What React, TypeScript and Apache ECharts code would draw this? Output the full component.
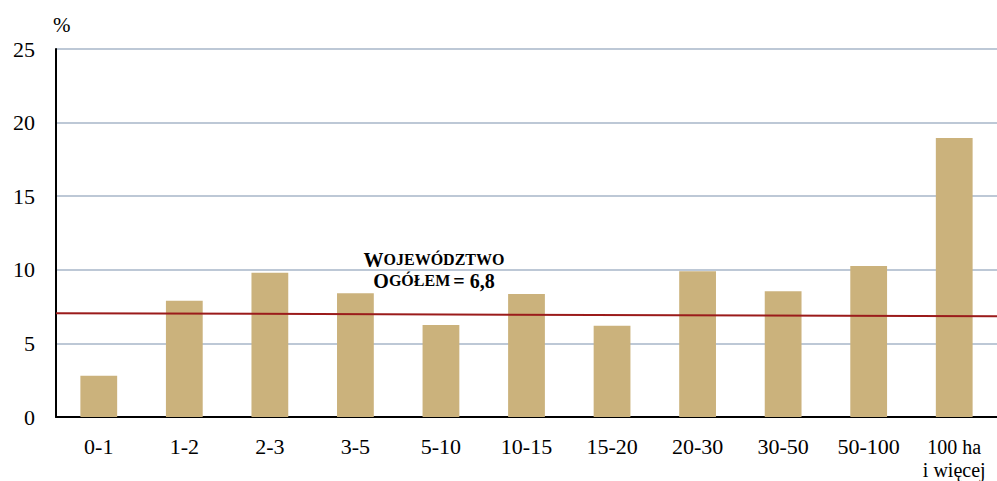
import React, { useEffect, useRef } from "react";
import * as echarts from "echarts";

const categories = ["0-1", "1-2", "2-3", "3-5", "5-10", "10-15", "15-20", "20-30", "30-50", "50-100", "100 ha\ni więcej"];
const values = [2.8, 7.9, 9.8, 8.4, 6.25, 8.35, 6.2, 9.9, 8.55, 10.25, 18.95];
const avgLine = [[0, 7.05], [1, 6.85]];
const yTicks = [0, 5, 10, 15, 20, 25];

export default function App() {
  const ref = useRef<HTMLDivElement>(null);
  useEffect(() => {
    if (!ref.current) return;
    const chart = echarts.init(ref.current, null, { renderer: "svg" });
    const font = "Liberation Serif";
    chart.setOption({
      animation: false,
      textStyle: { fontFamily: font },
      grid: { left: 56, right: 0, top: 49, bottom: 64 },
      xAxis: [
        {
          type: "category",
          data: categories,
          axisLine: { lineStyle: { color: "#000", width: 2 } },
          axisTick: { show: false },
          axisLabel: {
            color: "#000",
            fontSize: 22,
            fontFamily: font,
            margin: 18,
            lineHeight: 22,
            interval: 0,
            formatter: (v: string) =>
              v.indexOf("\n") >= 0 ? v.split("\n").map((s) => `{m|${s}}`).join("\n") : v,
            rich: {
              m: { fontSize: 20, lineHeight: 23, fontFamily: font, color: "#000" },
            },
          },
        },
        { type: "value", min: 0, max: 1, show: false },
      ],
      yAxis: {
        type: "value",
        min: yTicks[0],
        max: yTicks[yTicks.length - 1],
        interval: 5,
        name: "%",
        nameLocation: "end",
        nameGap: 14,
        nameTextStyle: { color: "#000", fontSize: 21, fontFamily: font, align: "left", padding: [0, 0, 0, -3] },
        axisLine: { show: true, lineStyle: { color: "#000", width: 2 } },
        axisTick: { show: false },
        axisLabel: { color: "#000", fontSize: 22, fontFamily: font, margin: 21 },
        splitLine: { lineStyle: { color: "#a7b6c9", width: 1.5 } },
      },
      series: [
        {
          type: "bar",
          data: values,
          barWidth: "43%",
          itemStyle: { color: "#cbb27c" },
          z: 2,
        },
        {
          type: "line",
          xAxisIndex: 1,
          data: avgLine,
          symbol: "none",
          lineStyle: { color: "#9b1b1b", width: 2 },
          z: 3,
        },
      ],
      graphic: [
        {
          type: "text",
          x: 434,
          y: 249,
          style: {
            text: "{b|W}{s|OJEWÓDZTWO}\n{b|O}{s|GÓŁEM} {b|= 6,8}",
            align: "center",
            verticalAlign: "top",
            fontFamily: font,
            rich: {
              b: { fontSize: 20, fontWeight: "bold", fontFamily: font, fill: "#000", lineHeight: 21, align: "center" },
              s: { fontSize: 16, fontWeight: "bold", fontFamily: font, fill: "#000", lineHeight: 21, align: "center" },
            },
          },
        },
      ],
    });
    return () => chart.dispose();
  }, []);
  return <div ref={ref} style={{ width: 997, height: 481, position: "absolute", left: 0, top: 0 }} />;
}
